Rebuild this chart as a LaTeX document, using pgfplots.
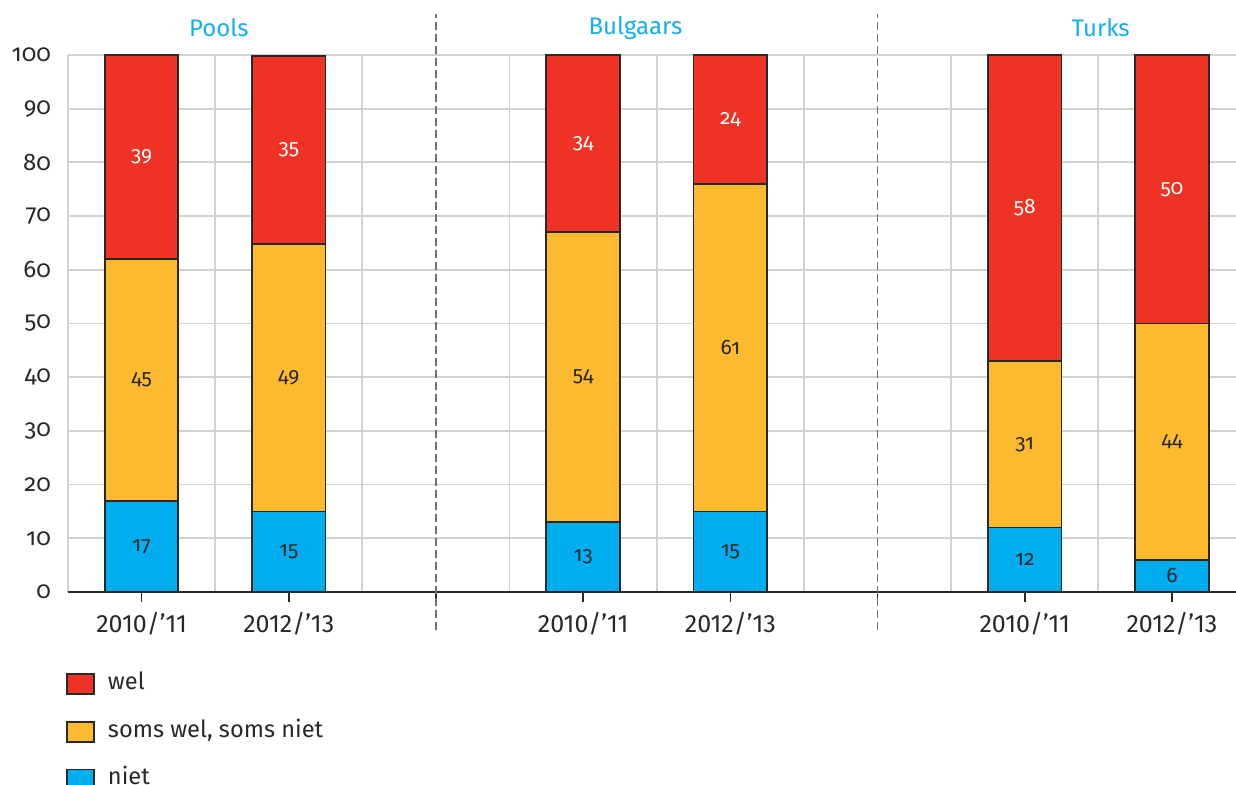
\documentclass[border=0pt]{standalone}
\usepackage{fontspec}
\setmainfont{Fira Sans}[Numbers=OldStyle]
\newfontfamily\lin{Fira Sans}[Numbers=Lining]
\usepackage{pgfplots}
\usepackage{pgfplotstable}
\pgfplotsset{compat=1.18}
\definecolor{cwel}{RGB}{238,50,36}
\definecolor{csoms}{RGB}{251,186,48}
\definecolor{cniet}{RGB}{0,174,239}
\definecolor{ctitle}{RGB}{20,175,235}
\definecolor{cedge}{RGB}{40,40,40}
\definecolor{cgrid}{RGB}{210,210,210}

% bar tops (cumulative)
\pgfplotstableread{
x niet soms wel
1 17 62 100
3 15 64.8 99.8
7 13 67 100
9 15 76 100
13 12 43 100
15 6 50 100
}\bars

% printed labels and their vertical positions (segment centres)
\pgfplotstableread{
x yniet lniet ysoms lsoms ywel lwel
1 8.5 17 39.5 45 81 39
3 7.5 15 39.9 49 82.3 35
7 6.5 13 40 54 83.5 34
9 7.5 15 45.5 61 88 24
13 6 12 27.5 31 71.5 58
15 3 6 28 44 75 50
}\labels

\pgfplotsset{
  sq/.style={
    ybar, bar width=1, bar shift=0pt,
    draw=cedge, line width=0.9pt,
    legend image code/.code={\draw[##1,draw=cedge,line width=0.8pt] (0pt,-5pt) rectangle (13.5pt,5pt);},
  },
  lab/.style={
    only marks, mark=none, forget plot,
    nodes near coords, point meta=explicit symbolic,
    every node near coord/.append style={anchor=center, font=\fontsize{10.5}{12}\selectfont},
  },
}

\begin{document}
\begin{tikzpicture}
\begin{axis}[
  scale only axis, width=584pt, height=268.5pt,
  xmin=0, xmax=15.87, ymin=0, ymax=100,
  clip=false,
  axis x line*=bottom, axis y line*=left,
  x axis line style={-, draw=cedge, line width=0.8pt},
  y axis line style={draw=none},
  xtick={1,3,5,7,9,11,13,15},
  xticklabels={2010/’11,2012/’13,,2010/’11,2012/’13,,2010/’11,2012/’13},
  xticklabel style={font=\lin\fontsize{12.5}{14}\selectfont, text=cedge, yshift=-1.5pt},
  minor xtick={0,2,4,6,8,10,12,14},
  xminorgrids=true, ymajorgrids=true, xmajorgrids=false,
  grid style={cgrid, line width=0.9pt},
  minor grid style={cgrid, line width=0.9pt},
  ytick={0,10,...,100},
  yticklabel style={font=\fontsize{12}{14}\selectfont, text=cedge},
  /pgf/number format/assume math mode=true,
  tick align=outside, major tick length=5pt, minor tick length=0pt,
  y tick style={draw=none},
  x tick style={draw=cedge, line width=0.8pt},
  legend cell align=left,
  legend style={at={(rel axis cs:0,0)}, anchor=north west, draw=none, fill=none,
    xshift=-1pt, yshift=-40.5pt, font=\fontsize{11.8}{14}\selectfont, text=cedge,
    row sep=13pt, inner sep=0pt,
    nodes={inner sep=0pt, text height=8pt, text depth=2.5pt},
    /tikz/every odd column/.append style={column sep=6.5pt}},
]
\addplot[sq, fill=cwel] table[x=x, y=wel]{\bars};
\addplot[sq, fill=csoms] table[x=x, y=soms]{\bars};
\addplot[sq, fill=cniet] table[x=x, y=niet]{\bars};
\legend{wel, {soms wel, soms niet}, niet}
\addplot[lab, every node near coord/.append style={text=cedge}] table[x=x, y=yniet, meta=lniet]{\labels};
\addplot[lab, every node near coord/.append style={text=cedge}] table[x=x, y=ysoms, meta=lsoms]{\labels};
\addplot[lab, every node near coord/.append style={text=white}] table[x=x, y=ywel, meta=lwel]{\labels};
\draw[gray!90!black, line width=0.9pt, dash pattern=on 4pt off 2pt] (axis cs:5,-7.1) -- (axis cs:5,107.6);
\draw[gray!90!black, line width=0.9pt, dash pattern=on 4pt off 2pt] (axis cs:11,-7.1) -- (axis cs:11,107.6);
\node[text=ctitle, font=\fontsize{12}{14}\selectfont] at (axis cs:2.05,105) {Pools};
\node[text=ctitle, font=\fontsize{12}{14}\selectfont] at (axis cs:7.71,105) {Bulgaars};
\node[text=ctitle, font=\fontsize{12}{14}\selectfont] at (axis cs:14.03,105) {Turks};
\coordinate (O) at (rel axis cs:0,0);
\coordinate (TR) at (rel axis cs:1,1);
\end{axis}
\pgfresetboundingbox
\path[use as bounding box] ([shift={(-34pt,-96.5pt)}]O) rectangle ([shift={(0pt,27.5pt)}]TR);
\end{tikzpicture}
\end{document}
